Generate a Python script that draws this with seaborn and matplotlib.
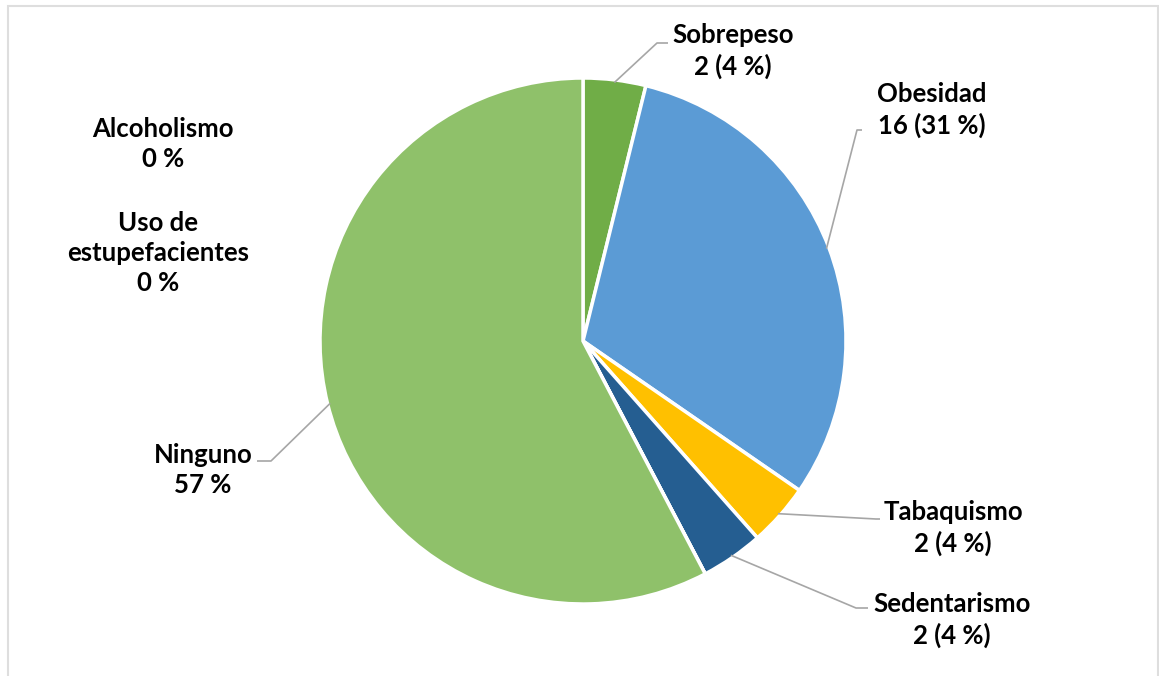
import numpy as np
import matplotlib
matplotlib.use("Agg")
import matplotlib.pyplot as plt
import seaborn as sns
from matplotlib.patches import Rectangle

# ---- data ----
categories = ["Sobrepeso", "Obesidad", "Tabaquismo", "Sedentarismo",
              "Alcoholismo", "Uso de\nestupefacientes", "Ninguno"]
counts = [2, 16, 2, 2, 0, 0, 30]
label_texts = ["Sobrepeso\n2 (4 %)", "Obesidad\n16 (31 %)", "Tabaquismo\n2 (4 %)",
               "Sedentarismo\n2 (4 %)", "Alcoholismo\n0 %", "Uso de\nestupefacientes\n0 %",
               "Ninguno\n57 %"]
colors = ["#70AD47", "#5B9BD5", "#FFC000", "#255E91", "#A5A5A5", "#4472C4", "#8FC16A"]

sns.set_theme(style="white")
plt.rcParams["font.family"] = ["Lato", "DejaVu Sans"]

W, H = 1159, 676
fig = plt.figure(figsize=(W / 100, H / 100), dpi=100)
ax = fig.add_axes([0, 0, 1, 1])

# chart border (bottom edge lies outside the image)
ax.add_patch(Rectangle((8, -20), W - 9, H - 6 + 20, fill=False, edgecolor="#DEDEDE", lw=1.5))

cx, cy, R = 583, H - 341, 263
wedges, _ = ax.pie(counts, colors=sns.color_palette(colors), startangle=90, counterclock=False,
                   center=(cx, cy), radius=R, frame=True,
                   wedgeprops=dict(edgecolor="white", linewidth=2.5))
ax.set_xlim(0, W)
ax.set_ylim(0, H)
ax.set_aspect("equal")
ax.set_axis_off()

# label layout (pixel positions, top-origin y)
label_pos = {0: (733, 51), 1: (932, 110), 2: (953, 528), 3: (952, 620),
             4: (163, 144), 5: (158, 253), 6: (203, 470)}
elbows = {0: [(657, 43), (668, 43)], 1: [(857, 130), (862, 130)],
          2: [(876, 519), (880, 519)], 3: [(856, 608), (868, 608)],
          6: [(271, 461), (257, 461)]}

for i, w in enumerate(wedges):
    x, y = label_pos[i]
    ax.text(x, H - y, label_texts[i], ha="center", va="center", fontsize=18.5,
            fontweight="bold", color="#000000", linespacing=1.3)
    if i in elbows and counts[i] > 0:
        ang = np.deg2rad((w.theta1 + w.theta2) / 2)
        sx, sy = cx + R * 0.99 * np.cos(ang), cy + R * 0.99 * np.sin(ang)
        xs = [sx] + [p[0] for p in elbows[i]]
        ys = [sy] + [H - p[1] for p in elbows[i]]
        ax.plot(xs, ys, color="#A6A6A6", lw=1.2, solid_capstyle="butt")

fig.savefig("out.png", dpi=100)
